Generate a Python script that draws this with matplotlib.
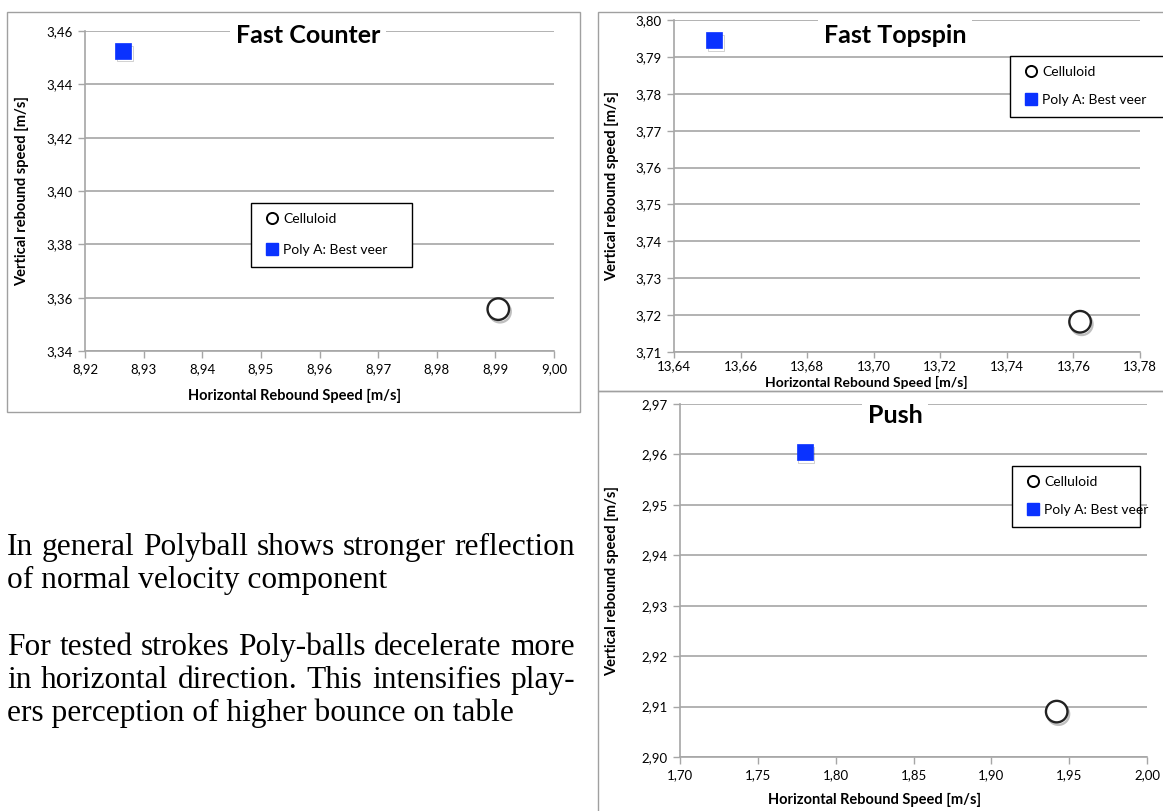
import numpy as np
import matplotlib
matplotlib.use("Agg")
import matplotlib.pyplot as plt
from matplotlib.patches import Rectangle
from matplotlib.lines import Line2D
from matplotlib.ticker import FuncFormatter
import matplotlib.patheffects as pe

# ---------------- data ----------------
series = ["Celluloid", "Poly A: Best veer"]
strokes = ["Fast Counter", "Fast Topspin", "Push"]
celluloid_h = [8.9905, 13.762, 1.942]
celluloid_v = [3.3557, 3.7182, 2.909]
poly_h = [8.9265, 13.652, 1.780]
poly_v = [3.4525, 3.7945, 2.9604]

x_ticks = [np.arange(8.92, 9.0001, 0.01), np.arange(13.64, 13.7801, 0.02), np.arange(1.70, 2.0001, 0.05)]
y_ticks = [np.arange(3.34, 3.4601, 0.02), np.arange(3.71, 3.8001, 0.01), np.arange(2.90, 2.9701, 0.01)]

x_label = "Horizontal Rebound Speed [m/s]"
y_label = "Vertical rebound speed [m/s]"

para1 = ["In general Polyball shows stronger reflection",
         "of normal velocity component"]
para2 = ["For tested strokes Poly-balls decelerate more",
         "in horizontal direction. This intensifies play-",
         "ers perception of higher bounce on table"]

# ---------------- layout (pixels) ----------------
W, H = 1163, 811
fig = plt.figure(figsize=(W / 100, H / 100), dpi=100)
fig.patch.set_facecolor("white")

def fx(x):
    return x / W

def fy(y):
    return 1 - y / H

def add_axes_px(l, t, r, b):
    return fig.add_axes([fx(l), fy(b), (r - l) / W, (b - t) / H])

FONT = "Lato"
GRID = "#a6a6a6"
BLUE = "#0a32ff"

frames = [(7, 12, 580, 412), (598, 12, 1175, 391), (598, 391, 1175, 820)]
axes_px = [(85, 31, 554, 351), (674, 20, 1140, 352), (680, 404, 1147, 757)]
title_px = [(308, 43), (895, 43), (895, 423)]
legend_px = [(251, 203, 412), (1010, 56, 1175), (1012, 466, 1140)]
legend_spacing = [1.35, 1.15, 1.15]
ylabel_x = [22, 612, 612]
xlabel_px = [(295, 396), (866, 382), (875, 800)]
xlabel_size = [10.5, 10, 10.5]

for (l, t, r, b) in frames:
    fig.patches.append(Rectangle((fx(l), fy(b)), (r - l) / W, (b - t) / H,
                                 transform=fig.transFigure, fill=False,
                                 edgecolor="#a0a0a0", lw=1.0, zorder=0))

fmt = FuncFormatter(lambda v, p: f"{v:.2f}".replace(".", ","))
shadow = [pe.SimpleLineShadow(offset=(1.2, -1.8), alpha=0.25, shadow_color="black"), pe.Normal()]

for i in range(3):
    l, t, r, b = axes_px[i]
    ax = add_axes_px(l, t, r, b)
    ax.set_facecolor("none")
    ax.set_xlim(x_ticks[i][0], x_ticks[i][-1])
    ax.set_ylim(y_ticks[i][0], y_ticks[i][-1])
    ax.set_xticks(x_ticks[i])
    ax.set_yticks(y_ticks[i])
    ax.xaxis.set_major_formatter(fmt)
    ax.yaxis.set_major_formatter(fmt)
    for s in ["top", "right"]:
        ax.spines[s].set_visible(False)
    for s in ["left", "bottom"]:
        ax.spines[s].set_color(GRID)
        ax.spines[s].set_linewidth(1.2)
    ax.tick_params(axis="both", colors=GRID, labelcolor="black", length=5,
                   width=1.0, labelsize=9.5, direction="out", pad=4)
    if i == 1:
        ax.tick_params(axis="x", length=4, pad=2)
    for lab in ax.get_xticklabels() + ax.get_yticklabels():
        lab.set_fontfamily(FONT)
    ax.grid(axis="y", color=GRID, lw=1.2)
    ax.set_axisbelow(True)

    ax.plot([celluloid_h[i]], [celluloid_v[i]], linestyle="none", marker="o",
            markersize=15.5, markerfacecolor="white", markeredgecolor="#222222",
            markeredgewidth=1.7, clip_on=False, zorder=5, path_effects=shadow)
    ax.plot([poly_h[i]], [poly_v[i]], linestyle="none", marker="s",
            markersize=11.5, markerfacecolor=BLUE, markeredgecolor=BLUE,
            markeredgewidth=0.5, clip_on=False, zorder=5, path_effects=shadow)

    tx, ty = title_px[i]
    fig.text(fx(tx), fy(ty), strokes[i], ha="center", va="baseline",
             fontsize=18, fontweight="bold", fontfamily=FONT,
             bbox=dict(facecolor="white", edgecolor="none", pad=4), zorder=6)

    handles = [Line2D([], [], linestyle="none", marker="o", markersize=8,
                      markerfacecolor="white", markeredgecolor="black", markeredgewidth=1.4),
               Line2D([], [], linestyle="none", marker="s", markersize=8,
                      markerfacecolor=BLUE, markeredgecolor=BLUE)]
    ll, lt, lr = legend_px[i]
    leg = fig.legend(handles, series, loc="upper left",
                     bbox_to_anchor=(fx(ll), fy(lt), (lr - ll) / W, 0.0001),
                     mode="expand", frameon=True, fancybox=False, borderaxespad=0,
                     prop={"family": FONT, "size": 10}, labelspacing=legend_spacing[i],
                     handlelength=1.5, handletextpad=0.05, borderpad=0.75,
                     framealpha=1)
    leg.get_frame().set_edgecolor("black")
    leg.get_frame().set_linewidth(1.0)

    xlx, xly = xlabel_px[i]
    fig.text(fx(xlx), fy(xly), x_label, ha="center", va="center",
             fontsize=xlabel_size[i], fontweight="bold", fontfamily=FONT)
    fig.text(fx(ylabel_x[i]), fy((t + b) / 2), y_label, ha="center", va="center",
             rotation=90, fontsize=10.5, fontweight="bold", fontfamily=FONT)

# ---------------- left body text ----------------
fig.canvas.draw()
renderer = fig.canvas.get_renderer()
SERIF = "Liberation Serif"
X0, X1 = 7, 575

# size the serif text so that the first line fills the column naturally
probe = fig.text(0, 0, para1[0], fontsize=20, fontfamily=SERIF)
natural = probe.get_window_extent(renderer).width
probe.remove()
FS = 20 * (X1 - X0 - 4) / natural

def put_line(text, ybase, justify):
    if not justify:
        fig.text(fx(X0), fy(ybase), text, ha="left", va="baseline",
                 fontsize=FS, fontfamily=SERIF)
        return
    words = text.split(" ")
    objs = [fig.text(0, 0, w, fontsize=FS, fontfamily=SERIF, va="baseline") for w in words]
    widths = [o.get_window_extent(renderer).width for o in objs]
    gap = (X1 - X0 - sum(widths)) / (len(words) - 1)
    x = X0
    for o, w in zip(objs, widths):
        o.set_position((fx(x), fy(ybase)))
        x += w + gap

put_line(para1[0], 555, True)
put_line(para1[1], 588, False)
put_line(para2[0], 655, True)
put_line(para2[1], 688, True)
put_line(para2[2], 721, False)

fig.savefig("out.png", dpi=100, facecolor="white")
